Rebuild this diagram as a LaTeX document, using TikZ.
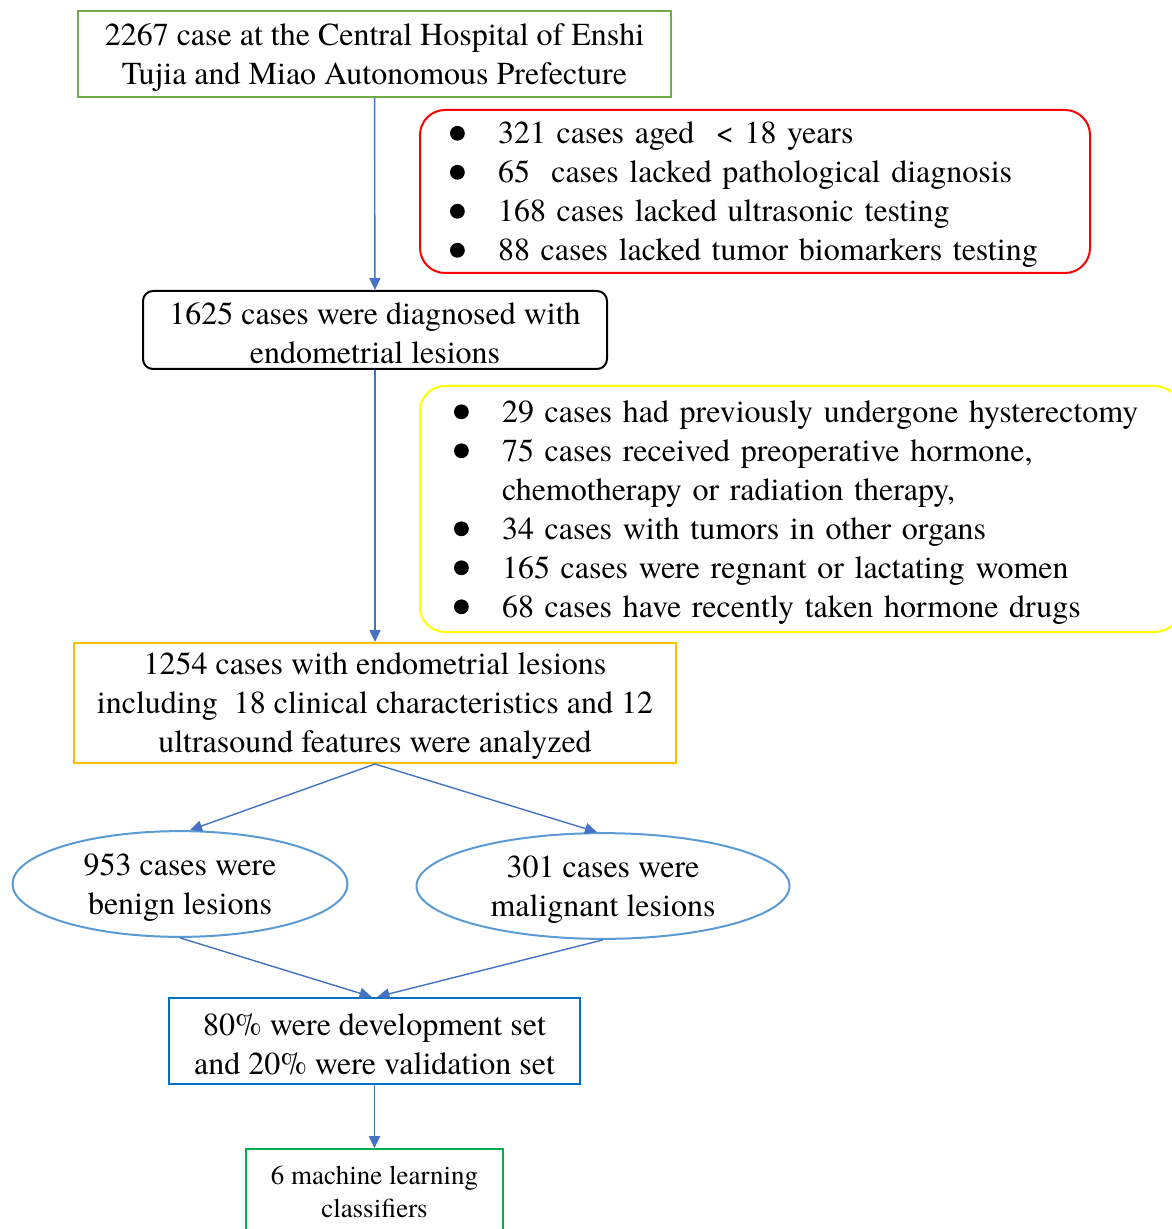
\documentclass[tikz,border=0pt]{standalone}
\usepackage{fontspec}
\setmainfont{texgyretermes-regular.otf}
\usetikzlibrary{shapes.geometric,arrows.meta}
\definecolor{topgreen}{HTML}{70AD47}
\definecolor{exclred}{HTML}{FF0000}
\definecolor{exclyellow}{HTML}{FFFF00}
\definecolor{boxorange}{HTML}{FFC000}
\definecolor{ovalblue}{HTML}{5B9BD5}
\definecolor{setblue}{HTML}{0070C0}
\definecolor{endgreen}{HTML}{00B050}
\definecolor{linkblue}{HTML}{4472C4}
\newcommand{\blt}{\makebox[24pt][l]{\tikz[baseline=-5.3pt]\fill[black] (3.7pt,0) circle (3.7pt);}}
\newcommand{\tstrut}{\rule{0pt}{14.4pt}}

\begin{document}
\begin{tikzpicture}[
		x=0.5pt, y=-0.5pt,
		every node/.style={
				font=\fontsize{16}{19.5}\selectfont,
				inner sep=0pt, align=center,
			},
		flowbox/.style={draw, line width=1pt},
		listbox/.style={draw, line width=1pt, rounded corners=12.5pt, align=left},
		oval/.style={draw=ovalblue, ellipse, line width=1pt},
		link/.style={draw=linkblue, line width=0.7pt, -{Triangle[length=6pt,width=5.5pt]}},
	]
	\useasboundingbox (0,0) rectangle (1171,1229);
	\clip (0,0) rectangle (1171,1229);

	\node[flowbox, draw=topgreen, minimum width=296.5pt, minimum height=43pt] (start) at (374.5,54)
		{\tstrut 2267 case at the Central Hospital of Enshi\\Tujia and Miao Autonomous Prefecture};
	\node[listbox, draw=exclred, minimum height=81.5pt, text width=305pt, inner xsep=15pt] (excla) at (755,191.5)
		{\tstrut\blt 321 cases aged\ \ < 18 years\\
			\blt 65\ \ cases lacked pathological diagnosis\\
			\blt 168 cases lacked ultrasonic testing\\
			\blt 88 cases lacked tumor biomarkers testing};
	\node[flowbox, draw=black, rounded corners=5pt, minimum width=232pt, minimum height=39pt] (lesion) at (375,330)
		{\tstrut 1625 cases were diagnosed with\\endometrial lesions};
	\node[listbox, draw=exclyellow, minimum height=123pt, text width=346pt, inner xsep=17pt] (exclb) at (800,509)
		{\tstrut\blt 29 cases had previously undergone hysterectomy\\
			\blt 75 cases received preoperative hormone,\\
			\hspace*{24pt}chemotherapy or radiation therapy,\\
			\blt 34 cases with tumors in other organs\\
			\blt 165 cases were regnant or lactating women\\
			\blt 68 cases have recently taken hormone drugs};
	\node[flowbox, draw=boxorange, minimum width=301pt, minimum height=60pt] (study) at (375,703)
		{\tstrut 1254 cases with endometrial lesions\\including\ \ 18 clinical characteristics and 12\\ultrasound features were analyzed};
	\node[oval, minimum width=167.5pt, minimum height=49.5pt] (benign) at (180,884)
		{\tstrut 953 cases were\\benign lesions};
	\node[oval, minimum width=186.5pt, minimum height=50pt] (malign) at (603,886)
		{\tstrut 301 cases were\\malignant lesions};
	\node[flowbox, draw=setblue, line width=1.2pt, minimum width=205.5pt, minimum height=43pt] (split) at (374.5,1041)
		{\tstrut 80\% were development set\\and 20\% were validation set};
	\node[flowbox, draw=endgreen, line width=0.8pt, minimum width=128.5pt, minimum height=43pt,
		font=\fontsize{13.5}{16.5}\selectfont] (models) at (374.5,1192)
		{6 machine learning\\classifiers};

	\draw[link] (start) -- (lesion);
	\draw[link] (lesion) -- (study);
	\draw[link] (study.south) -- ([xshift=5pt]benign.north);
	\draw[link] (study.south) -- ([xshift=-3pt]malign.north);
	\draw[link] (benign.south) -- ([xshift=-1.5pt]split.north);
	\draw[link] (malign.south) -- ([xshift=1.5pt]split.north);
	\draw[link] (split) -- (models);
\end{tikzpicture}
\end{document}
